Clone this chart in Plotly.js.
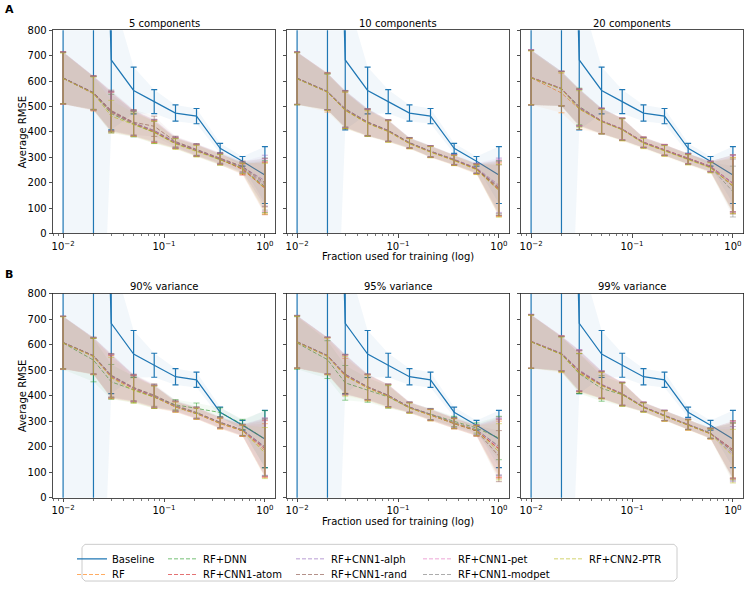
<!DOCTYPE html>
<html><head><meta charset="utf-8">
<script src="https://cdn.plot.ly/plotly-3.0.1.min.js"></script>
<style>html,body{margin:0;padding:0;background:#fff}#chart{width:748px;height:589px}</style>
</head><body><div id="chart"></div>
<script>
// ---------------- DATA ----------------
const fractions = [0.01, 0.02, 0.03, 0.05, 0.08, 0.13, 0.21, 0.36, 0.6, 1.0];
const panelTitles = ['5 components', '10 components', '20 components', '90% variance', '95% variance', '99% variance'];
const xTickVals = [0.01, 0.1, 1];
const xTickText = ['10<sup>−2</sup>', '10<sup>−1</sup>', '10<sup>0</sup>'];
const xMinorTickVals = [0.008, 0.009, 0.02, 0.03, 0.04, 0.05, 0.06, 0.07, 0.08, 0.09, 0.2, 0.3, 0.4, 0.5, 0.6, 0.7, 0.8, 0.9];
const yTickVals = [0, 100, 200, 300, 400, 500, 600, 700, 800];
const seriesNames = ['RF', 'RF+DNN', 'RF+CNN1-atom', 'RF+CNN1-alph', 'RF+CNN1-rand', 'RF+CNN1-pet', 'RF+CNN1-modpet', 'RF+CNN2-PTR'];

// Baseline (identical in all panels)
const baselineMean = [4000, 3000, 683, 563, 519, 474, 462, 335, 284, 230];
const baselineStd  = [5200, 4370, 275, 92, 47, 32, 30, 20, 19, 112];

// Mean values: one row per panel (5, 10, 20 components, 90, 95, 99 % variance)
const RF_mean = [
  [612, 550, 476, 432, 400, 355, 327, 292, 255, 180],
  [610, 556, 484, 434, 402, 354, 321, 288, 252, 172],
  [613, 553, 490, 441, 409, 356, 326, 291, 260, 190],
  [607, 554, 472, 427, 395, 356, 330, 290, 262, 185],
  [609, 554, 478, 431, 398, 352, 324, 290, 262, 190],
  [611, 562, 490, 440, 405, 354, 320, 285, 250, 182]];
const DNN_mean = [
  [611, 552, 472, 430, 398, 354, 326, 291, 257, 185],
  [609, 557, 486, 435, 403, 356, 324, 291, 256, 182],
  [614, 571, 500, 443, 411, 359, 329, 294, 264, 198],
  [606, 539, 454, 424, 394, 364, 351, 334, 287, 229],
  [606, 541, 450, 422, 395, 352, 328, 299, 273, 234],
  [611, 562, 486, 428, 404, 354, 322, 288, 254, 184]];
const ATOM_mean = [
  [612, 553, 480, 434, 402, 357, 327, 293, 252, 178],
  [611, 558, 488, 437, 404, 355, 322, 289, 254, 176],
  [614, 570, 496, 443, 411, 360, 330, 295, 265, 197],
  [607, 555, 475, 428, 396, 356, 330, 292, 263, 192],
  [610, 556, 480, 432, 399, 353, 324, 291, 262, 192],
  [612, 564, 495, 441, 406, 355, 321, 286, 251, 189]];
const ALPH_mean = [
  [613, 554, 482, 436, 406, 360, 330, 296, 262, 208],
  [612, 560, 490, 438, 405, 357, 324, 292, 258, 190],
  [615, 571, 497, 444, 412, 359, 329, 294, 264, 196],
  [608, 556, 478, 430, 398, 358, 332, 294, 266, 200],
  [611, 557, 483, 434, 401, 355, 327, 294, 266, 200],
  [613, 566, 500, 444, 408, 357, 323, 288, 253, 171]];
const RAND_mean = [
  [612, 555, 484, 438, 422, 362, 331, 298, 264, 200],
  [611, 559, 491, 439, 406, 358, 323, 290, 255, 170],
  [614, 570, 495, 442, 410, 358, 328, 293, 262, 185],
  [608, 557, 480, 432, 402, 362, 334, 296, 265, 195],
  [611, 557, 484, 435, 401, 355, 326, 290, 262, 163],
  [612, 565, 498, 443, 407, 356, 322, 287, 252, 189]];
const PET_mean = [
  [611, 552, 478, 433, 404, 356, 328, 294, 258, 190],
  [610, 558, 489, 437, 404, 356, 323, 291, 257, 185],
  [615, 571, 496, 443, 411, 359, 329, 294, 264, 198],
  [607, 555, 476, 429, 397, 357, 331, 293, 264, 197],
  [610, 556, 482, 433, 400, 354, 326, 293, 265, 198],
  [613, 566, 499, 444, 408, 357, 323, 288, 253, 186]];
const MODPET_mean = [
  [612, 553, 479, 434, 405, 358, 329, 295, 260, 195],
  [611, 559, 490, 438, 405, 357, 322, 290, 256, 180],
  [613, 569, 493, 441, 409, 357, 327, 292, 261, 165],
  [608, 556, 477, 430, 399, 359, 333, 295, 266, 199],
  [611, 557, 483, 434, 401, 355, 327, 294, 266, 202],
  [612, 565, 497, 442, 407, 356, 322, 287, 252, 180]];
const PTR_mean = [
  [610, 551, 462, 428, 398, 352, 324, 290, 256, 176],
  [609, 556, 485, 433, 401, 353, 320, 287, 251, 168],
  [613, 568, 490, 440, 408, 354, 325, 290, 258, 188],
  [606, 553, 470, 420, 394, 355, 329, 291, 263, 175],
  [609, 553, 476, 430, 397, 351, 323, 291, 263, 180],
  [611, 561, 488, 439, 404, 353, 320, 285, 250, 163]];

// Standard deviations (error bars and shaded bands)
const RF_std = [
  [101, 68, 80, 50, 43, 21, 22, 21, 22, 100],
  [102, 78, 72, 52, 42, 20, 22, 20, 19, 105],
  [106, 78, 80, 48, 44, 20, 21, 20, 20, 110],
  [103, 70, 85, 52, 44, 20, 22, 21, 22, 105],
  [102, 72, 68, 52, 46, 20, 22, 20, 20, 110],
  [104, 72, 75, 52, 46, 18, 20, 20, 20, 110]];
const DNN_std = [
  [102, 66, 76, 50, 44, 20, 23, 21, 21, 102],
  [103, 70, 72, 53, 42, 21, 22, 20, 19, 104],
  [108, 68, 72, 50, 43, 20, 21, 20, 20, 112],
  [104, 85, 68, 52, 44, 20, 20, 18, 20, 112],
  [103, 74, 68, 48, 44, 20, 22, 20, 20, 85],
  [105, 68, 78, 50, 45, 18, 20, 20, 20, 110]];
const ATOM_std = [
  [103, 67, 78, 50, 44, 21, 23, 22, 22, 104],
  [104, 72, 73, 52, 42, 20, 22, 20, 19, 106],
  [108, 68, 72, 50, 43, 20, 21, 20, 20, 112],
  [103, 72, 85, 52, 44, 20, 22, 21, 22, 110],
  [103, 72, 78, 50, 44, 20, 22, 20, 20, 115],
  [105, 68, 80, 53, 45, 18, 20, 20, 20, 112]];
const ALPH_std = [
  [102, 66, 78, 50, 43, 21, 23, 21, 21, 100],
  [103, 72, 72, 53, 42, 20, 22, 20, 19, 107],
  [108, 68, 72, 50, 43, 20, 21, 20, 20, 112],
  [103, 72, 85, 52, 44, 20, 22, 21, 22, 112],
  [103, 72, 78, 50, 44, 20, 22, 20, 20, 110],
  [105, 68, 80, 53, 45, 18, 20, 20, 20, 108]];
const RAND_std = [
  [102, 66, 80, 50, 40, 21, 23, 21, 21, 95],
  [103, 72, 72, 53, 42, 20, 22, 20, 19, 100],
  [108, 68, 72, 50, 43, 20, 21, 20, 20, 108],
  [103, 72, 85, 52, 44, 20, 22, 21, 22, 112],
  [103, 72, 78, 50, 44, 20, 22, 20, 20, 100],
  [105, 68, 80, 53, 45, 18, 20, 20, 20, 112]];
const PET_std = [
  [103, 67, 78, 50, 44, 21, 23, 21, 21, 104],
  [103, 72, 72, 53, 42, 20, 22, 20, 19, 107],
  [108, 68, 72, 50, 43, 20, 21, 20, 20, 112],
  [104, 72, 85, 52, 44, 20, 22, 21, 22, 115],
  [104, 72, 78, 50, 44, 20, 22, 20, 20, 115],
  [106, 68, 80, 53, 45, 18, 20, 20, 20, 112]];
const MODPET_std = [
  [102, 66, 78, 50, 44, 21, 23, 21, 21, 103],
  [103, 72, 72, 53, 42, 20, 22, 20, 19, 107],
  [108, 68, 72, 50, 43, 20, 21, 20, 20, 100],
  [103, 72, 85, 52, 44, 20, 22, 21, 22, 112],
  [103, 72, 78, 50, 44, 20, 22, 20, 20, 115],
  [105, 68, 80, 53, 45, 18, 20, 20, 20, 112]];
const PTR_std = [
  [100, 64, 62, 46, 44, 21, 23, 21, 21, 100],
  [102, 72, 72, 50, 42, 20, 22, 20, 19, 104],
  [106, 66, 72, 48, 43, 20, 21, 20, 20, 110],
  [102, 72, 80, 50, 44, 20, 22, 21, 22, 100],
  [102, 72, 78, 50, 44, 20, 22, 20, 20, 110],
  [104, 68, 78, 52, 45, 18, 20, 20, 20, 105]];

const seriesMeans = [RF_mean, DNN_mean, ATOM_mean, ALPH_mean, RAND_mean, PET_mean, MODPET_mean, PTR_mean];
const seriesStds  = [RF_std, DNN_std, ATOM_std, ALPH_std, RAND_std, PET_std, MODPET_std, PTR_std];

// ---------------- STYLE ----------------
const W = 748, H = 589;
const baseRGB = [31, 119, 180];
const seriesRGB = [[255,127,14],[44,160,44],[214,39,40],[148,103,189],[140,86,75],[227,119,194],[127,127,127],[188,189,34]];
// legend slot per entry: Baseline, then series order (matplotlib column-major, 5 columns x 2 rows)
const legendSlots = [[0,0],[0,1],[1,0],[1,1],[2,0],[2,1],[3,0],[3,1],[4,0]];
const legTextX = [113, 204, 332, 459, 590];
const legRowY = [561, 577];
const rgba = (c, a) => `rgba(${c[0]},${c[1]},${c[2]},${a})`;
const FONT = 'DejaVu Sans, sans-serif';

const colPx = [[53, 275], [287, 509], [521, 743]];
const rowPx = [[30.5, 235.5], [296, 502]];
const xTitleY = [259, 526];
const legId = i => (i === 0 ? 'legend' : 'legend' + (i + 1));

const traces = [];
function band(mean, std, ax, ay, fill) {
  const up = mean.map((m, i) => m + std[i]);
  const lo = mean.map((m, i) => m - std[i]);
  return {
    x: fractions.concat(fractions.slice().reverse()),
    y: up.concat(lo.slice().reverse()),
    xaxis: ax, yaxis: ay, type: 'scatter', mode: 'lines', fill: 'toself',
    fillcolor: fill, line: {width: 0, color: 'rgba(0,0,0,0)'},
    showlegend: false, hoverinfo: 'skip'
  };
}

for (let p = 0; p < 6; p++) {
  const ax = p === 0 ? 'x' : 'x' + (p + 1);
  const ay = p === 0 ? 'y' : 'y' + (p + 1);
  traces.push(band(baselineMean, baselineStd, ax, ay, rgba(baseRGB, 0.06)));
  traces.push({
    x: fractions, y: baselineMean, xaxis: ax, yaxis: ay, type: 'scatter', mode: 'lines',
    name: 'Baseline', legend: legId(0), showlegend: p === 0,
    line: {color: rgba(baseRGB, 1), width: 1.2},
    error_y: {type: 'data', array: baselineStd, visible: true, color: rgba(baseRGB, 1), thickness: 1.2, width: 3}
  });
  for (let s = 0; s < seriesNames.length; s++) {
    const m = seriesMeans[s][p], sd = seriesStds[s][p];
    traces.push(band(m, sd, ax, ay, rgba(seriesRGB[s], 0.05)));
    traces.push({
      x: fractions, y: m, xaxis: ax, yaxis: ay, type: 'scatter', mode: 'lines',
      name: seriesNames[s], legend: legId(s + 1), showlegend: p === 0,
      line: {color: rgba(seriesRGB[s], 0.65), width: 1, dash: '4px,2px'},
      error_y: {type: 'data', array: sd, visible: true, color: rgba(seriesRGB[s], 0.5), thickness: 1, width: 3}
    });
  }
}

const layout = {
  width: W, height: H,
  margin: {l: 0, r: 0, t: 0, b: 0},
  paper_bgcolor: '#fff', plot_bgcolor: '#fff',
  font: {family: FONT, size: 10, color: '#000'},
  annotations: [], shapes: []
};

for (let p = 0; p < 6; p++) {
  const r = Math.floor(p / 3), c = p % 3;
  const sx = p === 0 ? '' : String(p + 1);
  const xd = [colPx[c][0] / W, colPx[c][1] / W];
  const yd = [1 - rowPx[r][1] / H, 1 - rowPx[r][0] / H];
  layout['xaxis' + sx] = {
    type: 'log', range: [-2.1, 0.1], domain: xd, anchor: 'y' + sx,
    showline: true, mirror: true, linecolor: '#222', linewidth: 0.8,
    ticks: 'outside', ticklen: 3.5, tickwidth: 0.8, tickcolor: '#222',
    tickmode: 'array', tickvals: xTickVals, ticktext: xTickText,
    tickfont: {size: 10, family: FONT},
    showgrid: false, zeroline: false,
    minor: {tickmode: 'array', tickvals: xMinorTickVals, ticks: 'outside', ticklen: 2, tickwidth: 0.6, tickcolor: '#222', showgrid: false}
  };
  layout['yaxis' + sx] = {
    range: [0, 800], domain: yd, anchor: 'x' + sx,
    showline: true, mirror: true, linecolor: '#222', linewidth: 0.8,
    ticks: 'outside', ticklen: 3.5, tickwidth: 0.8, tickcolor: '#222',
    tickmode: 'array', tickvals: yTickVals, showticklabels: c === 0,
    tickfont: {size: 10, family: FONT},
    showgrid: false, zeroline: false
  };
  if (c === 0) {
    layout.annotations.push({
      text: 'Average RMSE', xref: 'paper', yref: 'paper', textangle: -90,
      x: 22.5 / W, y: (yd[0] + yd[1]) / 2, xanchor: 'center', yanchor: 'middle',
      showarrow: false, font: {size: 10, family: FONT}
    });
  }
  if (c === 1) {
    layout.annotations.push({
      text: 'Fraction used for training (log)', xref: 'paper', yref: 'paper',
      x: (xd[0] + xd[1]) / 2, y: 1 - xTitleY[r] / H, xanchor: 'center', yanchor: 'middle',
      showarrow: false, font: {size: 10, family: FONT}
    });
  }
  layout.annotations.push({
    text: panelTitles[p], xref: 'paper', yref: 'paper',
    x: (xd[0] + xd[1]) / 2, y: 1 - (rowPx[r][0] - 7) / H,
    xanchor: 'center', yanchor: 'middle', showarrow: false, font: {size: 10, family: FONT}
  });
}

// panel letters
layout.annotations.push({text: '<b>A</b>', xref: 'paper', yref: 'paper', x: 3 / W, y: 1 - 10 / H, xanchor: 'left', yanchor: 'middle', showarrow: false, font: {size: 11, family: FONT}});
layout.annotations.push({text: '<b>B</b>', xref: 'paper', yref: 'paper', x: 3 / W, y: 1 - 277 / H, xanchor: 'left', yanchor: 'middle', showarrow: false, font: {size: 11, family: FONT}});

// one legend per entry so the grid matches the reference
legendSlots.forEach((slot, i) => {
  layout[legId(i)] = {
    x: (legTextX[slot[0]] - 41) / W, y: 1 - (legRowY[slot[1]] - 12) / H, xanchor: 'left', yanchor: 'top',
    orientation: 'v', bgcolor: 'rgba(0,0,0,0)', borderwidth: 0,
    font: {size: 10, family: FONT}, tracegroupgap: 0, itemwidth: 30
  };
});
// legend frame
const bx0 = 82, by0 = 549, bx1 = 677, by1 = 586, rr = 3;
layout.shapes.push({
  type: 'path', xref: 'paper', yref: 'paper', layer: 'below',
  path: `M ${(bx0 + rr) / W} ${1 - by0 / H} L ${(bx1 - rr) / W} ${1 - by0 / H} L ${bx1 / W} ${1 - (by0 + rr) / H} L ${bx1 / W} ${1 - (by1 - rr) / H} L ${(bx1 - rr) / W} ${1 - by1 / H} L ${(bx0 + rr) / W} ${1 - by1 / H} L ${bx0 / W} ${1 - (by1 - rr) / H} L ${bx0 / W} ${1 - (by0 + rr) / H} Z`,
  line: {color: '#cccccc', width: 1}, fillcolor: 'rgba(255,255,255,0.8)'
});

Plotly.newPlot('chart', traces, layout, {staticPlot: true, displayModeBar: false});
</script>
</body></html>
